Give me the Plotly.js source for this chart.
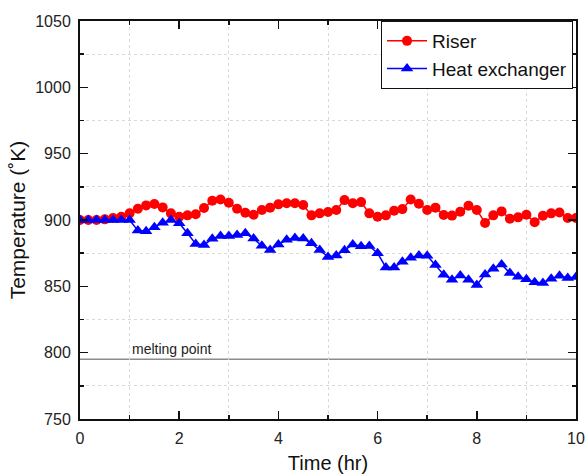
<!DOCTYPE html>
<html>
<head>
<meta charset="utf-8">
<script src="https://cdn.plot.ly/plotly-3.0.1.min.js"></script>
<style>html,body{margin:0;padding:0;background:#fff;}#chart{width:585px;height:475px;}</style>
</head>
<body>
<div id="chart"></div>
<script>
const timeHr = [0, 0.167, 0.333, 0.5, 0.667, 0.833, 1.0, 1.167, 1.333, 1.5,
  1.667, 1.833, 2.0, 2.167, 2.333, 2.5, 2.667, 2.833, 3.0, 3.167,
  3.333, 3.5, 3.667, 3.833, 4.0, 4.167, 4.333, 4.5, 4.667, 4.833,
  5.0, 5.167, 5.333, 5.5, 5.667, 5.833, 6.0, 6.167, 6.333, 6.5,
  6.667, 6.833, 7.0, 7.167, 7.333, 7.5, 7.667, 7.833, 8.0, 8.167,
  8.333, 8.5, 8.667, 8.833, 9.0, 9.167, 9.333, 9.5, 9.667, 9.833, 10.0];
const riserTemp = [900, 900, 900, 900.5, 901.5, 902.5, 905, 908.5, 911, 912,
  909.5, 905, 902.5, 903.5, 904.3, 909, 914.5, 915.5, 913, 908.5,
  905.5, 904, 907.5, 909.3, 911.8, 912.6, 912.6, 911.3, 903.5, 905,
  906, 907.6, 915, 912.6, 913.5, 905, 902.5, 903.5, 907, 908.2,
  915.5, 912.2, 907.6, 909.3, 903.8, 903.3, 906.3, 910.8, 907.6, 897.8,
  903.5, 906.5, 901, 902, 904, 898.3, 903.2, 905, 905.6, 901.5, 901.5];
const heatExchangerTemp = [900, 900, 900, 900, 900, 900, 900, 892, 891.5, 894.5,
  898, 900, 897.6, 890, 882, 881.2, 885.8, 888, 888, 888.7,
  890, 886, 880.5, 877.4, 881.5, 885.2, 886.5, 886, 882.4, 877.4,
  872.2, 873.3, 877.2, 881.5, 880.2, 880.4, 875, 864.2, 864.2, 868.6,
  871.5, 873.3, 873, 866, 858.8, 855, 858.2, 855, 851, 859,
  863.3, 866.5, 860, 857.3, 855.4, 853, 852.5, 855.8, 858, 856.3, 857];
const meltingPoint = 795;
const meltingLabel = 'melting point';
const seriesNames = ['Riser', 'Heat exchanger'];
const xTitle = 'Time (hr)';
const yTitle = 'Temperature (\u02DAK)';

const font = 'Liberation Sans, Arial, sans-serif';
const axisCommon = {
  showline: true, linewidth: 2, linecolor: '#111', mirror: 'ticks',
  ticks: 'inside', ticklen: 8, tickwidth: 1.5, tickcolor: '#111',
  showgrid: false, zeroline: false,
  tickfont: {family: font, size: 16, color: '#222'}
};
const traces = [
  {x: timeHr, y: riserTemp, name: seriesNames[0], type: 'scatter', mode: 'lines+markers',
   line: {color: '#ff0000', width: 1.5}, marker: {symbol: 'circle', size: 10, color: '#ff0000'}},
  {x: timeHr, y: heatExchangerTemp, name: seriesNames[1], type: 'scatter', mode: 'lines+markers',
   line: {color: '#0000ff', width: 1.5}, marker: {symbol: 'triangle-up', size: 11, color: '#0000ff'}}
];
const layout = {
  width: 585, height: 475,
  margin: {l: 80, r: 9, t: 21, b: 56, pad: 0},
  paper_bgcolor: '#fff', plot_bgcolor: '#fff',
  showlegend: true,
  legend: {x: 0.994, y: 1, xanchor: 'right', yanchor: 'top', bgcolor: '#fff',
    bordercolor: '#111', borderwidth: 1, font: {family: font, size: 19, color: '#111'},
    itemwidth: 40, tracegroupgap: 0},
  xaxis: Object.assign({}, axisCommon, {
    range: [0, 10], tick0: 0, dtick: 2,
    minor: {dtick: 1, ticks: 'inside', ticklen: 4, tickcolor: '#111', tickwidth: 1.5,
      showgrid: true, gridcolor: '#d9d9d9', griddash: 'dot', gridwidth: 1},
    ticklabelstandoff: 4,
    title: {text: xTitle, font: {family: font, size: 20, color: '#111'}, standoff: 10}
  }),
  yaxis: Object.assign({}, axisCommon, {
    range: [750, 1050], tick0: 750, dtick: 50,
    minor: {dtick: 25, ticks: 'inside', ticklen: 4, tickcolor: '#111', tickwidth: 1.5,
      showgrid: true, gridcolor: '#d9d9d9', griddash: 'dot', gridwidth: 1},
    ticklabelstandoff: 4,
    title: {text: yTitle, font: {family: font, size: 21, color: '#111'}, standoff: 4}
  }),
  shapes: [{type: 'line', xref: 'paper', x0: 0, x1: 1, yref: 'y', y0: meltingPoint, y1: meltingPoint,
    line: {color: '#8c8c8c', width: 1.5}, layer: 'below'}],
  annotations: [{xref: 'x', yref: 'y', x: 1.0, y: meltingPoint, xanchor: 'left', yanchor: 'bottom',
    text: meltingLabel, showarrow: false, font: {family: font, size: 14, color: '#222'}, yshift: 0}]
};
Plotly.newPlot('chart', traces, layout, {displayModeBar: false, staticPlot: true});
</script>
</body>
</html>
